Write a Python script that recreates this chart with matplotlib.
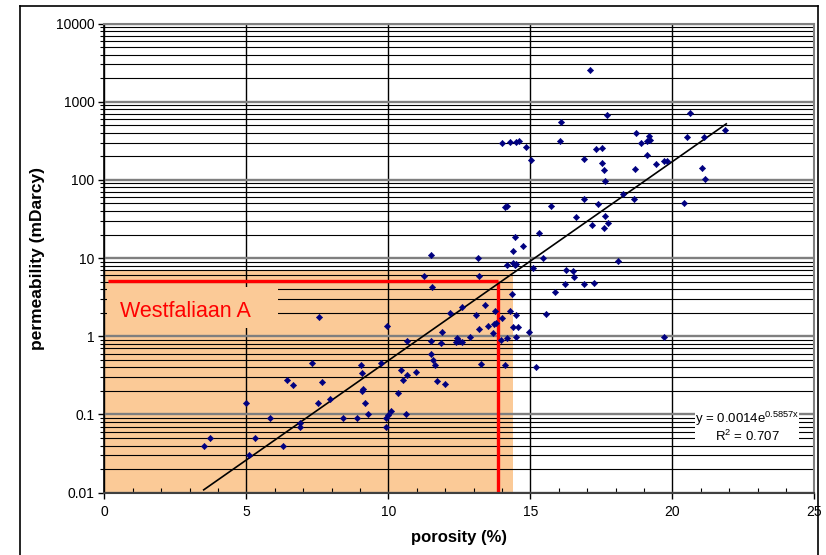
import numpy as np
import matplotlib
matplotlib.use("Agg")
import matplotlib.pyplot as plt
from matplotlib.ticker import LogLocator, NullFormatter, FixedLocator, MultipleLocator
from matplotlib.patches import Rectangle
from matplotlib.lines import Line2D

plt.rcParams['font.family'] = ['Liberation Sans', 'DejaVu Sans']
plt.rcParams['mathtext.fontset'] = 'custom'
plt.rcParams['mathtext.rm'] = 'Liberation Sans'
plt.rcParams['mathtext.default'] = 'regular'

# ---- data (porosity %, permeability mDarcy) ----
porosity = [3.50, 3.71, 4.99, 5.10, 5.31, 5.84, 6.29, 6.45, 6.66, 6.89, 6.88, 7.30, 7.51, 7.55,
            7.67, 7.95, 8.39, 8.91, 9.04, 9.09, 9.06, 9.11, 9.19, 9.30, 9.74, 9.91, 9.99, 10.11,
            9.91, 9.95, 10.33, 10.46, 10.51, 10.61, 10.67, 10.67, 10.99, 11.27, 11.49, 11.49,
            11.49, 11.55, 11.57, 11.66, 11.73, 11.86, 11.90, 11.99, 12.18, 12.43, 12.49, 12.39,
            12.58, 12.58, 12.89, 13.09, 13.17, 13.19, 13.19, 13.27, 13.39, 13.50, 13.69, 13.71,
            13.78, 13.76, 13.96, 14.01, 14.11, 14.19, 14.29, 14.35, 14.39, 14.58, 14.49, 14.50,
            14.95, 15.20, 15.56, 15.88, 16.22, 16.26, 16.49, 16.55, 16.90, 17.25, 15.08, 15.46,
            14.17, 14.38, 14.49, 14.45, 14.39, 14.45, 15.31, 14.75, 18.10, 19.70,
            17.09, 17.71, 16.09, 14.02, 14.29, 14.50, 14.60, 14.85, 16.04, 15.02, 17.30, 17.53,
            16.88, 17.51, 17.58, 17.64, 18.25, 16.90, 17.39, 14.12, 14.19, 15.74, 17.64, 16.60,
            17.74, 17.16, 17.58, 20.63, 21.86, 18.73, 19.17, 18.91, 19.11, 19.20, 20.51, 21.13,
            19.12, 18.68, 19.42, 19.70, 19.81, 21.04, 21.15, 18.65, 20.41]
permeability = [0.040, 0.050, 0.14, 0.030, 0.050, 0.089, 0.040, 0.28, 0.24, 0.078, 0.069, 0.45,
                0.14, 1.77, 0.26, 0.16, 0.089, 0.089, 0.43, 0.34, 0.20, 0.21, 0.14, 0.10, 0.45,
                0.090, 0.099, 0.11, 0.070, 1.37, 0.19, 0.37, 0.28, 0.10, 0.32, 0.865, 0.35, 5.86,
                10.96, 0.865, 0.60, 4.33, 0.50, 0.43, 0.27, 0.81, 1.12, 0.247, 2.01, 0.955, 0.87,
                0.85, 0.85, 2.40, 0.99, 1.90, 10.1, 5.86, 1.23, 0.437, 2.55, 1.35, 1.09, 1.43,
                1.48, 2.09, 0.89, 1.70, 0.43, 0.95, 2.09, 3.45, 1.30, 1.30, 0.97, 1.90, 1.12,
                0.41, 1.95, 3.66, 4.72, 6.98, 6.9, 5.74, 4.72, 4.8, 7.56, 10.1, 8.09, 8.75, 8.5,
                8.1, 12.3, 18.6, 20.9, 14.4, 9.1, 0.98,
                2524, 667, 553, 295, 301, 307, 313, 262, 313, 181, 245, 258, 183, 164, 133, 96.6,
                65.3, 57.5, 49.1, 45, 46.9, 45.9, 34.5, 33.9, 28.4, 26.2, 24, 713, 437, 396, 367,
                299, 317, 325, 352, 352, 207, 136, 161, 172, 176, 144, 104, 57.5, 51.1]

trend_a, trend_b = 0.0014, 0.5857
trend_x_range = [3.5, 21.9]
r_squared = 0.707

cutoff_perm = 5.17        # red horizontal line
cutoff_poro = 13.88       # red vertical line
zone_poro_max = 14.38     # orange zone
zone_perm_max = 6.8

x_ticks = [0, 5, 10, 15, 20, 25]
y_ticks = [0.01, 0.1, 1, 10, 100, 1000, 10000]
y_tick_labels = ['0.01', '0.1', '1', '10', '100', '1000', '10000']

# ---- figure ----
W, H = 826, 555
fig = plt.figure(figsize=(W / 100, H / 100), dpi=100)
L, R, T, B = 104.3, 814.3, 23.5, 492.7
ax = fig.add_axes([L / W, 1 - B / H, (R - L) / W, (B - T) / H])

ax.set_yscale('log')
ax.set_xlim(0, 25)
ax.set_ylim(0.01, 10000)

# orange zone
ax.add_patch(Rectangle((0, 0.01), zone_poro_max, zone_perm_max - 0.01,
                       facecolor='#FBCA97', edgecolor='none', zorder=0.2))

# grid
ax.set_axisbelow(True)
ax.yaxis.set_major_locator(FixedLocator(y_ticks))
ax.yaxis.set_minor_locator(LogLocator(base=10, subs=np.arange(2, 10), numticks=20))
ax.yaxis.set_minor_formatter(NullFormatter())
ax.set_yticks(y_ticks)
ax.set_yticklabels(y_tick_labels)
ax.set_xticks(x_ticks)
ax.set_xticklabels([str(v) for v in x_ticks])
ax.xaxis.set_minor_locator(MultipleLocator(1))

ax.yaxis.grid(True, which='major', color='#7f7f7f', lw=1.7)
ax.yaxis.grid(True, which='minor', color='black', lw=0.8)
ax.xaxis.grid(True, which='major', color='black', lw=1.0)

ax.tick_params(axis='both', which='major', direction='out', length=4, width=1,
               labelsize=10, pad=3, colors='black')
ax.tick_params(axis='y', which='minor', direction='out', length=3, width=0.8)
ax.tick_params(axis='x', which='minor', direction='in', length=3.5, width=0.8)
ax.tick_params(axis='x', which='major', pad=5)

for s in ['top', 'right']:
    ax.spines[s].set_color('#808080')
    ax.spines[s].set_linewidth(1.5)
ax.spines['left'].set_color('black')
ax.spines['left'].set_linewidth(1.2)
ax.spines['bottom'].set_color('#404040')
ax.spines['bottom'].set_linewidth(1.5)

# red cutoff lines
ax.plot([0.14, cutoff_poro], [cutoff_perm, cutoff_perm], color='#FF0000', lw=2.4,
        zorder=2, solid_capstyle='butt')
ax.plot([cutoff_poro, cutoff_poro], [cutoff_perm, 0.01], color='#FF0000', lw=2.4,
        zorder=2, solid_capstyle='butt', clip_on=False)

# label box
ax.add_patch(Rectangle((0.1, 1.276), 6.0, 4.27 - 1.276, facecolor='#FBCA97',
                       edgecolor='none', zorder=1.5))
ax.text(0.55, 2.1, 'Westfaliaan A', color='#FF0000', fontsize=15.5,
        va='center', ha='left', zorder=3)

# trendline
tx = np.linspace(trend_x_range[0], trend_x_range[1], 200)
ax.plot(tx, trend_a * np.exp(trend_b * tx), color='black', lw=1.2, zorder=2.5)

# points
ax.plot(porosity, permeability, linestyle='none', marker='D', markersize=3.2,
        markeredgewidth=0.4, color='#000080', zorder=3)

# equation box
ax.add_patch(Rectangle((20.8, 0.0408), 24.46 - 20.8, 0.1086 - 0.0408,
                       facecolor='white', edgecolor='none', zorder=4))
ax.text(22.65, 0.088, 'y = %.4fe$^{%.4fx}$' % (trend_a, trend_b), fontsize=9.5,
        ha='center', va='center', zorder=5)
ax.text(22.65, 0.052, 'R$^2$ = %.3f' % r_squared, fontsize=9.5,
        ha='center', va='center', zorder=5)

ax.set_xlabel('porosity (%)', fontsize=12, fontweight='bold', labelpad=8)
ax.set_ylabel('permeability (mDarcy)', fontsize=12.5, fontweight='bold', labelpad=8)

# outer chart border
for (x0, y0, x1, y1) in [(20, 5.5, 818, 5.5), (20, 5.5, 20, 560), (818, 5.5, 818, 560)]:
    fig.add_artist(Line2D([x0 / W, x1 / W], [1 - y0 / H, 1 - y1 / H], color='black', lw=1.2,
                          transform=fig.transFigure))

fig.savefig('out.png', dpi=100, facecolor='white')
